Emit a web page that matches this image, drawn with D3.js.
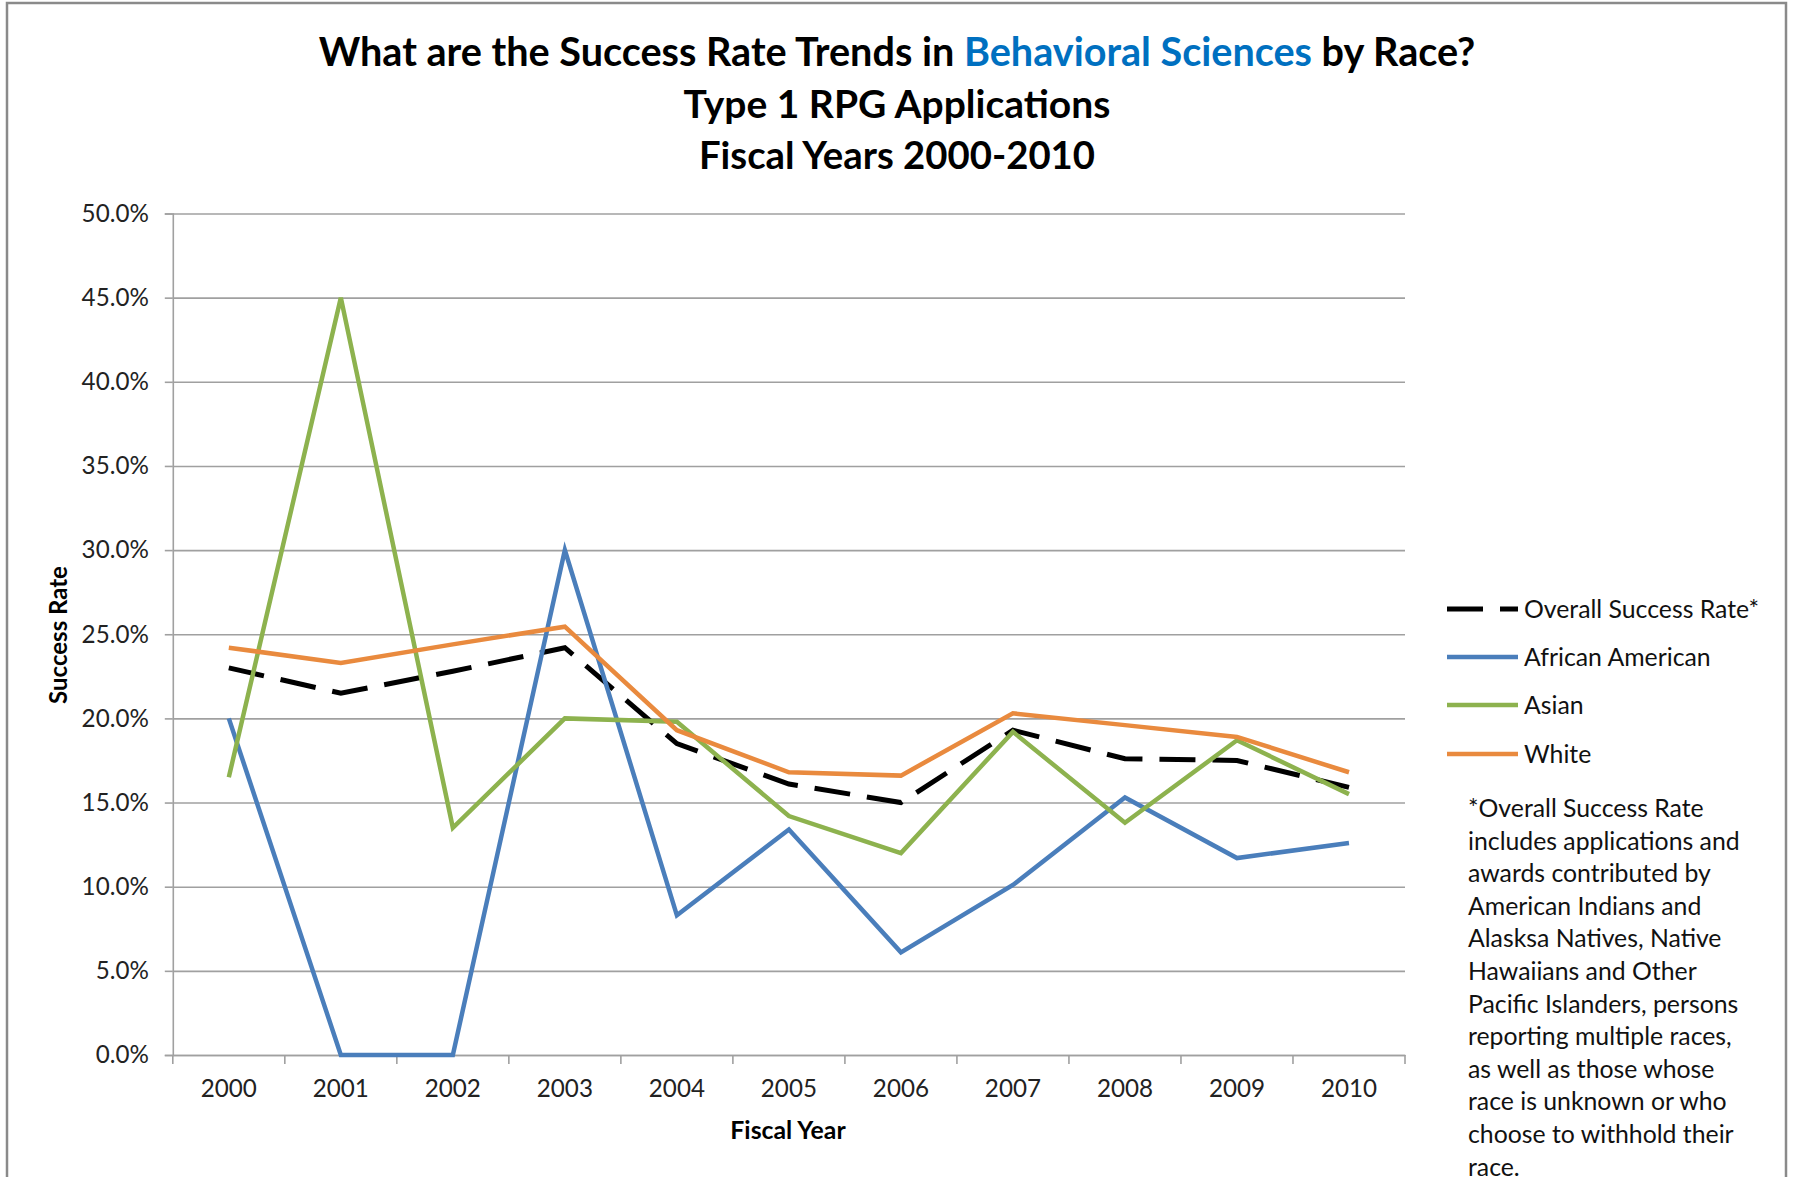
<!DOCTYPE html>
<html><head><meta charset="utf-8">
<script src="https://cdn.jsdelivr.net/npm/d3@7"></script>
<style>
body{margin:0;background:#fff;}
svg{display:block;font-family:Lato,'Open Sans',sans-serif;}
</style>
</head><body>
<svg id="chart" width="1794" height="1177"></svg>
<script>
// ---- data ----
const years = ["2000","2001","2002","2003","2004","2005","2006","2007","2008","2009","2010"];
const overall = [23.0,21.5,22.8,24.2,18.5,16.1,15.0,19.3,17.6,17.5,15.9];
const africanAmerican = [20.0,0.0,0.0,30.0,8.3,13.4,6.1,10.1,15.3,11.7,12.6];
const asian = [16.5,45.0,13.5,20.0,19.8,14.2,12.0,19.2,13.8,18.7,15.5];
const white = [24.2,23.3,24.4,25.45,19.3,16.8,16.6,20.3,19.6,18.9,16.8];
const yTicks = [0,5,10,15,20,25,30,35,40,45,50];
const seriesNames = ["Overall Success Rate*","African American","Asian","White"];
const footnote = ["*Overall Success Rate","includes applications and","awards contributed by","American Indians and","Alasksa Natives, Native","Hawaiians and Other","Pacific Islanders, persons","reporting multiple races,","as well as those whose","race is unknown or who","choose to withhold their","race."];

const series = [
  {name:seriesNames[0], values:overall, color:"#000000", dash:"36,17"},
  {name:seriesNames[1], values:africanAmerican, color:"#4A7EBB", dash:null},
  {name:seriesNames[2], values:asian, color:"#8DB24E", dash:null},
  {name:seriesNames[3], values:white, color:"#E98A3E", dash:null}
];

const svg = d3.select("#chart");
svg.append("rect").attr("x",0).attr("y",0).attr("width",1794).attr("height",1177).attr("fill","#fff");
svg.append("rect").attr("x",7).attr("y",3).attr("width",1779).attr("height",1250)
  .attr("fill","none").attr("stroke","#8a8a8a").attr("stroke-width",2.5);

const L=172.8, R=1405, T=213.5, B=1055;
const x = d3.scaleBand().domain(years).range([L,R]);
const y = d3.scaleLinear().domain([0,50]).range([B,T]);
const cx = d => x(d)+x.bandwidth()/2;

// title
const title = svg.append("text").attr("text-anchor","middle").attr("font-weight","bold").attr("fill","#000");
const t1 = title.append("tspan").attr("x",897).attr("y",66).attr("font-size",39.6);
t1.append("tspan").text("What are the Success Rate Trends in ");
t1.append("tspan").attr("fill","#0070C0").text("Behavioral Sciences");
t1.append("tspan").text(" by Race?");
title.append("tspan").attr("x",897).attr("y",118).attr("font-size",39).text("Type 1 RPG Applications");
title.append("tspan").attr("x",897).attr("y",169).attr("font-size",38.3).text("Fiscal Years 2000-2010");

// gridlines
const g = svg.append("g");
g.append("g").attr("transform",`translate(${L},0)`)
  .call(d3.axisLeft(y).tickValues(yTicks).tickSize(-(R-L)).tickFormat(""))
  .call(s=>s.select(".domain").remove())
  .call(s=>s.selectAll("line").attr("stroke","#a0a0a0").attr("stroke-width",1.6));

// y axis
g.append("g").attr("transform",`translate(${L},0)`)
  .call(d3.axisLeft(y).tickValues(yTicks).tickSize(8).tickPadding(16).tickFormat(d=>d.toFixed(1)+"%"))
  .call(s=>s.select(".domain").attr("stroke","#a0a0a0").attr("stroke-width",1.6))
  .call(s=>s.selectAll("line").attr("stroke","#a0a0a0").attr("stroke-width",1.6))
  .call(s=>s.selectAll("text").attr("font-size",24.2).attr("fill","#222").attr("font-family","Lato,sans-serif"));

// x axis
const xa = g.append("g").attr("transform",`translate(0,${B})`)
  .call(d3.axisBottom(x).tickSize(0).tickPadding(25))
  .call(s=>s.select(".domain").attr("stroke","#a0a0a0").attr("stroke-width",1.6))
  .call(s=>s.selectAll("text").attr("font-size",24.2).attr("fill","#222").attr("font-family","Lato,sans-serif"));
const bounds = years.map(d=>x(d)).concat([R]);
xa.selectAll(".bt").data(bounds).join("line").attr("class","bt")
  .attr("x1",d=>d).attr("x2",d=>d).attr("y1",0).attr("y2",9)
  .attr("stroke","#a0a0a0").attr("stroke-width",1.6);

// axis titles
svg.append("text").attr("x",788).attr("y",1139).attr("text-anchor","middle")
  .attr("font-weight","bold").attr("font-size",24.8).text("Fiscal Year");
svg.append("text").attr("transform","translate(67,635) rotate(-90)").attr("text-anchor","middle")
  .attr("font-weight","bold").attr("font-size",24).text("Success Rate");

// lines
const line = d3.line().x((v,i)=>cx(years[i])).y(v=>y(v));
svg.append("g").selectAll("path").data(series).join("path")
  .attr("d",d=>line(d.values)).attr("fill","none")
  .attr("stroke",d=>d.color).attr("stroke-width",d=>d.dash?5:4.5)
  .attr("stroke-dasharray",d=>d.dash).attr("stroke-linejoin","miter");

// legend
const lg = svg.append("g");
const rowsY = [609,657,705,754];
series.forEach((s,i)=>{
  lg.append("line").attr("x1",1447).attr("x2",1518).attr("y1",rowsY[i]).attr("y2",rowsY[i])
    .attr("stroke",s.color).attr("stroke-width",s.dash?5:4.5).attr("stroke-dasharray",s.dash);
  lg.append("text").attr("x",1524).attr("y",rowsY[i]).attr("dy","0.35em")
    .attr("font-size",24.8).attr("fill","#111").text(s.name);
});

// footnote
const fn = svg.append("text").attr("font-size",24.8).attr("fill","#111");
footnote.forEach((t,i)=>{
  fn.append("tspan").attr("x",1468).attr("y",817+i*32.6).text(t);
});
</script>
</body></html>
